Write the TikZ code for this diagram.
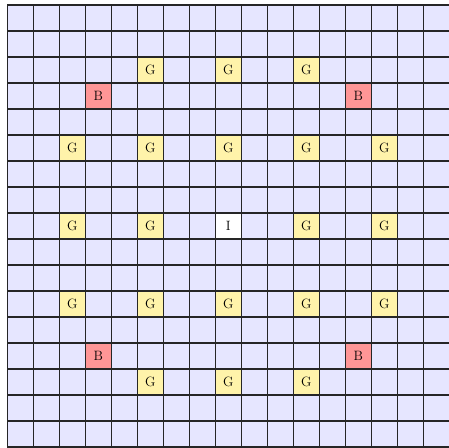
\documentclass[tikz,border=0pt]{standalone}
\definecolor{lav}{RGB}{230,230,255}
\definecolor{gcol}{RGB}{255,243,170}
\definecolor{bcol}{RGB}{255,150,150}
\begin{document}
\begin{tikzpicture}[x=26pt,y=-26pt,
  cellbox/.style={minimum size=26pt,inner sep=0pt,outer sep=0pt,font=\fontsize{13.5}{15}\selectfont},
  gcell/.style={cellbox,fill=gcol},
  bcell/.style={cellbox,fill=bcol},
  icell/.style={cellbox,fill=white},
  gridline/.style={draw=black!85,line width=1.1pt}]
\useasboundingbox (-0.2808,-0.1923) rectangle (16.988,17.0);
\clip (-0.2808,-0.1923) rectangle (16.988,17.0);
\fill[white] (-0.2808,-0.1923) rectangle (16.988,17.0);
\fill[lav] (0,0) rectangle (17,17);
% G cells
\node[gcell] (g1) at (5.5,2.5) {G};
\node[gcell] (g2) at (8.5,2.5) {G};
\node[gcell] (g3) at (11.5,2.5) {G};
\node[gcell] (g4) at (2.5,5.5) {G};
\node[gcell] (g5) at (5.5,5.5) {G};
\node[gcell] (g6) at (8.5,5.5) {G};
\node[gcell] (g7) at (11.5,5.5) {G};
\node[gcell] (g8) at (14.5,5.5) {G};
\node[gcell] (g9) at (2.5,8.5) {G};
\node[gcell] (g10) at (5.5,8.5) {G};
\node[gcell] (g11) at (11.5,8.5) {G};
\node[gcell] (g12) at (14.5,8.5) {G};
\node[gcell] (g13) at (2.5,11.5) {G};
\node[gcell] (g14) at (5.5,11.5) {G};
\node[gcell] (g15) at (8.5,11.5) {G};
\node[gcell] (g16) at (11.5,11.5) {G};
\node[gcell] (g17) at (14.5,11.5) {G};
\node[gcell] (g18) at (5.5,14.5) {G};
\node[gcell] (g19) at (8.5,14.5) {G};
\node[gcell] (g20) at (11.5,14.5) {G};
% B cells
\node[bcell] (b1) at (3.5,3.5) {B};
\node[bcell] (b2) at (13.5,3.5) {B};
\node[bcell] (b3) at (3.5,13.5) {B};
\node[bcell] (b4) at (13.5,13.5) {B};
% I cell
\node[icell] (i) at (8.5,8.5) {I};
% grid
\foreach \k in {0,...,17} {
  \draw[gridline] (\k,0) -- (\k,17);
  \draw[gridline] (0,\k) -- (17,\k);
}
\end{tikzpicture}
\end{document}
